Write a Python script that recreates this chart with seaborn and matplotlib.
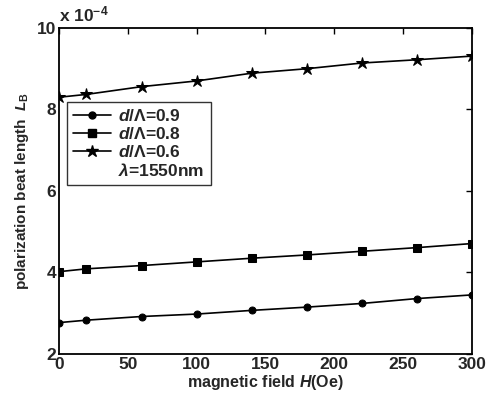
import matplotlib
matplotlib.use("Agg")
import matplotlib.pyplot as plt
import seaborn as sns
import pandas as pd
from matplotlib.lines import Line2D

H = [0, 20, 60, 100, 140, 180, 220, 260, 300]
lb_09 = [2.77, 2.83, 2.92, 2.98, 3.07, 3.15, 3.24, 3.36, 3.45]
lb_08 = [4.02, 4.09, 4.17, 4.26, 4.35, 4.43, 4.52, 4.61, 4.71]
lb_06 = [8.30, 8.37, 8.56, 8.70, 8.89, 9.00, 9.14, 9.22, 9.31]
labels = [r"$d/\Lambda$=0.9", r"$d/\Lambda$=0.8", r"$d/\Lambda$=0.6"]
extra_label = r"$\lambda$=1550nm"

sns.set_theme(style="white")
plt.rcParams["font.family"] = ["Liberation Sans", "DejaVu Sans"]
plt.rcParams["font.weight"] = "bold"
plt.rcParams["mathtext.fontset"] = "custom"
plt.rcParams["mathtext.it"] = "Liberation Sans:italic:bold"
plt.rcParams["mathtext.rm"] = "Liberation Sans:bold"
plt.rcParams["mathtext.bf"] = "Liberation Sans:bold"

df = pd.concat([
    pd.DataFrame({"H": H, "LB": v, "series": lab})
    for v, lab in zip([lb_09, lb_08, lb_06], labels)
])

fig = plt.figure(figsize=(4.87, 4.03), dpi=100)
ax = fig.add_axes([0.121, 0.1216, 0.848, 0.809])

markers = {labels[0]: "o", labels[1]: "s", labels[2]: "*"}
sizes = {labels[0]: 5, labels[1]: 5.5, labels[2]: 9}
for lab in labels:
    sub = df[df["series"] == lab]
    sns.lineplot(data=sub, x="H", y="LB", ax=ax, color="black", lw=1.2,
                 marker=markers[lab], markersize=sizes[lab],
                 markeredgecolor="black", markerfacecolor="black", label=lab,
                 legend=False)

ax.set_xlim(0, 300)
ax.set_ylim(2, 10)
ax.set_xticks([0, 50, 100, 150, 200, 250, 300])
ax.set_yticks([2, 4, 6, 8, 10])
ax.tick_params(direction="in", top=True, right=True, length=4, width=1,
               labelsize=12.5, pad=2, color="black")
for lbl in ax.get_xticklabels() + ax.get_yticklabels():
    lbl.set_fontweight("bold")
for s in ax.spines.values():
    s.set_color("black")
    s.set_linewidth(1.3)

ax.set_xlabel(r"magnetic field $H$(Oe)", fontsize=11.5, fontweight="bold", labelpad=1)
ax.set_ylabel(r"polarization beat length  $L_{\rm B}$", fontsize=11,
              fontweight="bold", labelpad=4)
ax.text(0.0, 1.012, r"x 10$^{-4}$", transform=ax.transAxes, fontsize=12.5,
        fontweight="bold", ha="left", va="bottom")

handles = [Line2D([], [], color="black", lw=1.2, marker=markers[l],
                  markersize=sizes[l]) for l in labels]
handles.append(Line2D([], [], color="none"))
leg = ax.legend(handles, labels + [extra_label], loc="upper left",
                bbox_to_anchor=(0.02, 0.773), fontsize=12.5, frameon=True,
                fancybox=False, handlelength=2.2, handletextpad=0.4,
                labelspacing=0.12, borderpad=0.35, borderaxespad=0)
leg.get_frame().set_edgecolor("black")
leg.get_frame().set_linewidth(1.0)
for t in leg.get_texts():
    t.set_fontweight("bold")

fig.savefig("out.png", dpi=100)
